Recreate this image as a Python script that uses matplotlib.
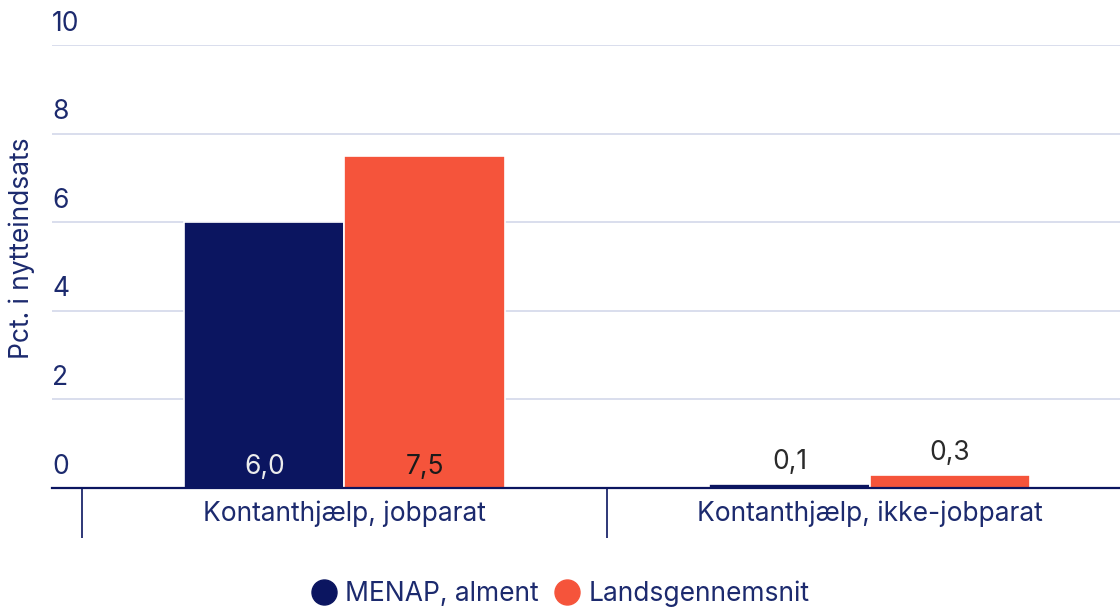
import numpy as np
import matplotlib.pyplot as plt
import matplotlib.transforms as mtransforms
from matplotlib.lines import Line2D

plt.rcParams['font.family'] = ['Inter', 'DejaVu Sans']

categories = ['Kontanthjælp, jobparat', 'Kontanthjælp, ikke-jobparat']
series_names = ['MENAP, alment', 'Landsgennemsnit']
menap = [6.0, 0.1]
lands = [7.5, 0.3]
yticks = [0, 2, 4, 6, 8, 10]

navy = '#0b1560'
orange = '#f5543b'
textc = '#1c2a6e'
grid = '#d3d8ea'
fs = 19

fig = plt.figure(figsize=(11.2, 6.07), dpi=100)
ax = fig.add_axes([52 / 1120, 1 - 488 / 607, 1 - 52 / 1120, (488 - 45) / 607])

x = np.arange(len(categories))
w = 0.305
bars1 = ax.bar(x - w / 2, menap, w, color=navy, edgecolor='white', linewidth=1.2, zorder=3)
bars2 = ax.bar(x + w / 2, lands, w, color=orange, edgecolor='white', linewidth=1.2, zorder=3)

ax.set_xlim(-0.557, 1.477)
ax.set_ylim(0, 10)

# gridlines and y labels drawn above the lines
ax.set_yticks(yticks)
ax.set_yticklabels([])
ax.tick_params(axis='y', length=0)
ax.grid(axis='y', color=grid, linewidth=1.2, zorder=0)
trans = mtransforms.blended_transform_factory(ax.transAxes, ax.transData)
for v in yticks:
    ax.annotate(str(v), (0, v), xycoords=trans, xytext=(0, 6), textcoords='offset points',
                ha='left', va='bottom', fontsize=fs, color=textc, annotation_clip=False)

for sp in ['top', 'right', 'left']:
    ax.spines[sp].set_visible(False)
ax.spines['bottom'].set_color(navy)
ax.spines['bottom'].set_linewidth(1.6)
ax.spines['bottom'].set_zorder(4)

# category labels and separators
ax.set_xticks(x)
ax.set_xticklabels(categories, fontsize=fs, color=textc)
ax.tick_params(axis='x', which='major', length=0, pad=9)
ax.set_xticks([-0.5, 0.5], minor=True)
ax.tick_params(axis='x', which='minor', length=36, width=1.2, color=navy)

# value labels
for bars, vals, inner in [(bars1, menap, '#ececec'), (bars2, lands, '#1a1a1a')]:
    for b, v in zip(bars, vals):
        lab = f'{v:.1f}'.replace('.', ',')
        cx = b.get_x() + b.get_width() / 2
        if v >= 1:
            ax.annotate(lab, (cx, 0), xytext=(0, 6), textcoords='offset points',
                        ha='center', va='bottom', fontsize=fs, color=inner, zorder=5)
        else:
            ax.annotate(lab, (cx, v), xytext=(0, 6), textcoords='offset points',
                        ha='center', va='bottom', fontsize=fs, color='#2a2a2a', zorder=5)

fig.text(22 / 1120, 1 - 248 / 607, 'Pct. i nytteindsats', rotation=90, ha='center', va='center',
         fontsize=fs, color=textc)

handles = [Line2D([], [], marker='o', linestyle='', markersize=18, color=c) for c in (navy, orange)]
leg = fig.legend(handles, series_names, loc='center', bbox_to_anchor=(0.5, 1 - 594 / 607),
                 ncol=2, frameon=False, fontsize=fs, handletextpad=0.3, columnspacing=0.6,
                 handlelength=1.0)
for t in leg.get_texts():
    t.set_color(textc)

fig.savefig('out.png', dpi=100)
